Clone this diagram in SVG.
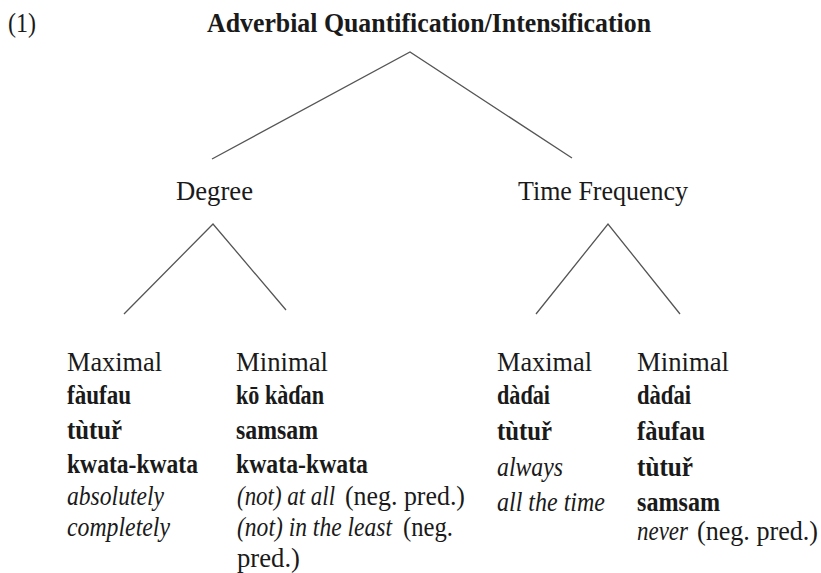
<svg xmlns="http://www.w3.org/2000/svg" width="821" height="573" viewBox="0 0 821 573">
<style>
text{font-family:"Liberation Serif","Times New Roman",serif;font-size:27px;fill:#1a1a1a}
.b{font-weight:bold}
.i{font-style:italic}
.e{stroke:#555;stroke-width:1.3;fill:none}
</style>
<rect width="821" height="573" fill="#fff"/>
<g id="connectors">
<path class="e" d="M212,159 L410,52 L572,158"/>
<path class="e" d="M124,314 L213,224 L286,310"/>
<path class="e" d="M536,314 L608,224 L680,314"/>
</g>
<g id="label-num"><text x="8" y="32" textLength="28" lengthAdjust="spacingAndGlyphs">(1)</text></g>
<g id="root"><text class="b" x="207" y="32" textLength="444" lengthAdjust="spacingAndGlyphs">Adverbial Quantification/Intensification</text></g>
<g id="degree"><text x="176" y="200" textLength="77" lengthAdjust="spacingAndGlyphs">Degree</text></g>
<g id="time-frequency"><text x="518" y="200" textLength="170" lengthAdjust="spacingAndGlyphs">Time Frequency</text></g>
<g id="degree-maximal">
<text x="67" y="371" textLength="95" lengthAdjust="spacingAndGlyphs">Maximal</text>
<text class="b" x="67" y="404" textLength="64" lengthAdjust="spacingAndGlyphs">fàufau</text>
<text class="b" x="67" y="439" textLength="55" lengthAdjust="spacingAndGlyphs">tùtuř</text>
<text class="b" x="67" y="473" textLength="131" lengthAdjust="spacingAndGlyphs">kwata-kwata</text>
<text class="i" x="67" y="505" textLength="97" lengthAdjust="spacingAndGlyphs">absolutely</text>
<text class="i" x="67" y="536" textLength="103" lengthAdjust="spacingAndGlyphs">completely</text>
</g>
<g id="degree-minimal">
<text x="236" y="371" textLength="92" lengthAdjust="spacingAndGlyphs">Minimal</text>
<text class="b" x="236" y="404" textLength="88" lengthAdjust="spacingAndGlyphs">kō kàɗan</text>
<text class="b" x="236" y="439" textLength="82" lengthAdjust="spacingAndGlyphs">samsam</text>
<text class="b" x="236" y="473" textLength="132" lengthAdjust="spacingAndGlyphs">kwata-kwata</text>
<text y="505"><tspan class="i" x="237" textLength="98" lengthAdjust="spacingAndGlyphs">(not) at all</tspan><tspan x="345" textLength="120" lengthAdjust="spacingAndGlyphs">(neg. pred.)</tspan></text>
<text y="536"><tspan class="i" x="237" textLength="155" lengthAdjust="spacingAndGlyphs">(not) in the least</tspan><tspan x="403" textLength="50" lengthAdjust="spacingAndGlyphs">(neg.</tspan></text>
<text x="237" y="567" textLength="63" lengthAdjust="spacingAndGlyphs">pred.)</text>
</g>
<g id="time-maximal">
<text x="497" y="371" textLength="95" lengthAdjust="spacingAndGlyphs">Maximal</text>
<text class="b" x="497" y="404" textLength="53" lengthAdjust="spacingAndGlyphs">dàɗai</text>
<text class="b" x="497" y="440" textLength="55" lengthAdjust="spacingAndGlyphs">tùtuř</text>
<text class="i" x="497" y="476" textLength="66" lengthAdjust="spacingAndGlyphs">always</text>
<text class="i" x="497" y="511" textLength="108" lengthAdjust="spacingAndGlyphs">all the time</text>
</g>
<g id="time-minimal">
<text x="637" y="371" textLength="92" lengthAdjust="spacingAndGlyphs">Minimal</text>
<text class="b" x="637" y="404" textLength="54" lengthAdjust="spacingAndGlyphs">dàɗai</text>
<text class="b" x="637" y="440" textLength="68" lengthAdjust="spacingAndGlyphs">fàufau</text>
<text class="b" x="637" y="476" textLength="56" lengthAdjust="spacingAndGlyphs">tùtuř</text>
<text class="b" x="637" y="511" textLength="83" lengthAdjust="spacingAndGlyphs">samsam</text>
<text y="540"><tspan class="i" x="637" textLength="51" lengthAdjust="spacingAndGlyphs">never</tspan><tspan x="697" textLength="121" lengthAdjust="spacingAndGlyphs">(neg. pred.)</tspan></text>
</g>
</svg>
